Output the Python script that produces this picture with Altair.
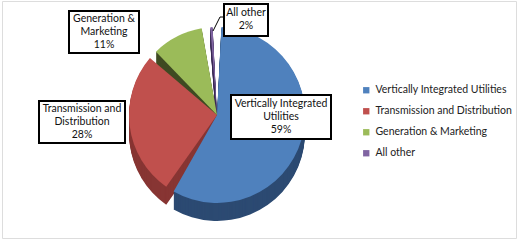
import altair as alt
import pandas as pd

# ---- data ----
segments = ["Vertically Integrated Utilities", "Transmission and Distribution",
            "Generation & Marketing", "All other"]
shares = [59, 28, 11, 2]
label_names = ["Vertically Integrated\nUtilities", "Transmission and\nDistribution",
               "Generation &\nMarketing", "All other"]

# ---- styles / layout ----
top_colors = ["#4F81BD", "#C0504D", "#9BBB59", "#8064A2"]
side_colors = ["#2C4A72", "#873533", "#3E4A22", "#3C2C57"]
FONT = "Lato, sans-serif"
FS = 10.5
LH = 13
CX, CY, R, DEPTH = 215, 114, 88, 18
PAD = 0.1
boxes = {  # x0, y0, x1, y1 of each callout box
    segments[0]: (229, 94, 329, 138),
    segments[1]: (37, 100, 123, 142),
    segments[2]: (67, 10, 137, 52),
    segments[3]: (222, 3, 266, 35),
}

df = pd.DataFrame({"segment": segments, "share": shares, "idx": list(range(len(segments)))})
df["label"] = [f"{n}\n{s}%" for n, s in zip(label_names, shares)]
df["nlines"] = df["label"].str.count("\n") + 1


def pie(yoff, colors, show_legend):
    legend = alt.Legend(title=None, orient="none", legendX=359, legendY=84,
                        symbolType="square", symbolSize=40, labelFont=FONT,
                        labelFontSize=FS, labelColor="#222222", rowPadding=10,
                        labelOffset=4, symbolStrokeWidth=0) if show_legend else None
    return alt.Chart(df).mark_arc(outerRadius=R, padAngle=PAD).encode(
        theta=alt.Theta("share:Q", stack=True),
        order=alt.Order("idx:Q"),
        color=alt.Color("segment:N", sort=segments,
                        scale=alt.Scale(domain=segments, range=colors),
                        legend=legend),
        x=alt.value(CX),
        y=alt.value(CY + yoff),
    )


layers = [pie(d, side_colors, False) for d in range(DEPTH, 0, -1)]
layers.append(pie(0, top_colors, True))

for seg, nl in zip(segments, df["nlines"]):
    x0, y0, x1, y1 = boxes[seg]
    base = alt.Chart(df).transform_filter(alt.datum.segment == seg)
    layers.append(base.mark_rect(fill="white", stroke="black", strokeWidth=2).encode(
        x=alt.value(x0), x2=alt.value(x1), y=alt.value(y0), y2=alt.value(y1)))
    top = (y0 + y1) / 2 - nl * LH / 2 + 1
    layers.append(base.mark_text(lineBreak="\n", lineHeight=LH, font=FONT, fontSize=FS,
                                 color="#111111", align="center", baseline="top").encode(
        x=alt.value((x0 + x1) / 2), y=alt.value(top), text="label:N"))

# leader line for "All other"
lead = alt.Chart(df).transform_filter(alt.datum.segment == segments[3])
layers.append(lead.mark_rule(color="black", strokeWidth=1).encode(
    x=alt.value(222), x2=alt.value(218), y=alt.value(16), y2=alt.value(16)))
layers.append(lead.mark_rule(color="black", strokeWidth=1).encode(
    x=alt.value(218), x2=alt.value(211), y=alt.value(16), y2=alt.value(30)))

chart = alt.layer(*layers).resolve_scale(color="independent").properties(
    width=514, height=237,
    padding={"left": 2, "top": 1, "right": 2, "bottom": 3},
    autosize=alt.AutoSizeParams(type="none"),
).configure_view(stroke="#8C8C8C", strokeWidth=1).configure(background="white")

chart.save("out.html", embed_options={"renderer": "svg", "actions": False})
